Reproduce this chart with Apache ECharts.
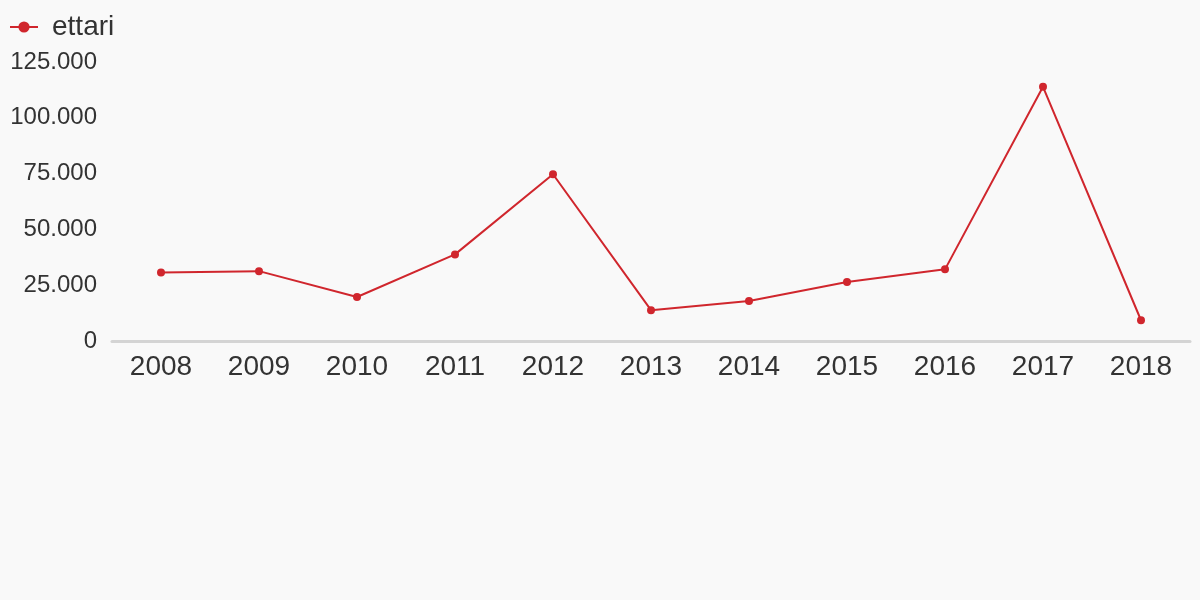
<!DOCTYPE html>
<html><head><meta charset="utf-8">
<script src="https://cdn.jsdelivr.net/npm/echarts@6/dist/echarts.min.js"></script>
<style>html,body{margin:0;padding:0;background:#f9f9f9}#c{width:1200px;height:600px}</style>
</head><body><div id="c"></div>
<script>
const categories = ['2008','2009','2010','2011','2012','2013','2014','2015','2016','2017','2018'];
const seriesName = 'ettari';
const values = [30700, 31300, 19700, 38800, 74700, 13800, 17900, 26400, 32100, 113900, 9300];
const yTicks = [0, 25000, 50000, 75000, 100000, 125000];

const fmt = v => String(v).replace(/\B(?=(\d{3})+(?!\d))/g, '.');
const chart = echarts.init(document.getElementById('c'));
chart.setOption({
  backgroundColor: '#f9f9f9',
  animation: false,
  textStyle: { fontFamily: 'Liberation Sans, Arial, sans-serif' },
  legend: {
    left: 4, top: 8, itemWidth: 28, itemHeight: 14, itemGap: 10,
    textStyle: { fontSize: 28, color: '#333', padding: [0,0,0,9] },
    data: [{ name: seriesName }]
  },
  grid: { left: 112, right: 10, top: 62, bottom: 259, containLabel: false },
  xAxis: {
    type: 'category', data: categories, boundaryGap: true,
    axisLine: { lineStyle: { color: '#d4d4d4', width: 3 } },
    axisTick: { show: false },
    axisLabel: { fontSize: 28, color: '#333', margin: 12 }
  },
  yAxis: {
    type: 'value', min: yTicks[0], max: yTicks[yTicks.length-1], interval: 25000,
    axisLine: { show: false }, axisTick: { show: false }, splitLine: { show: false },
    axisLabel: { fontSize: 24, color: '#333', margin: 15, padding: [5,0,0,0], formatter: v => fmt(v) }
  },
  series: [{
    name: seriesName, type: 'line', data: values,
    color: '#d0262d',
    lineStyle: { width: 2, color: '#d0262d' },
    itemStyle: { color: '#d0262d' },
    symbol: 'circle', symbolSize: 8
  }]
});
</script></body></html>
